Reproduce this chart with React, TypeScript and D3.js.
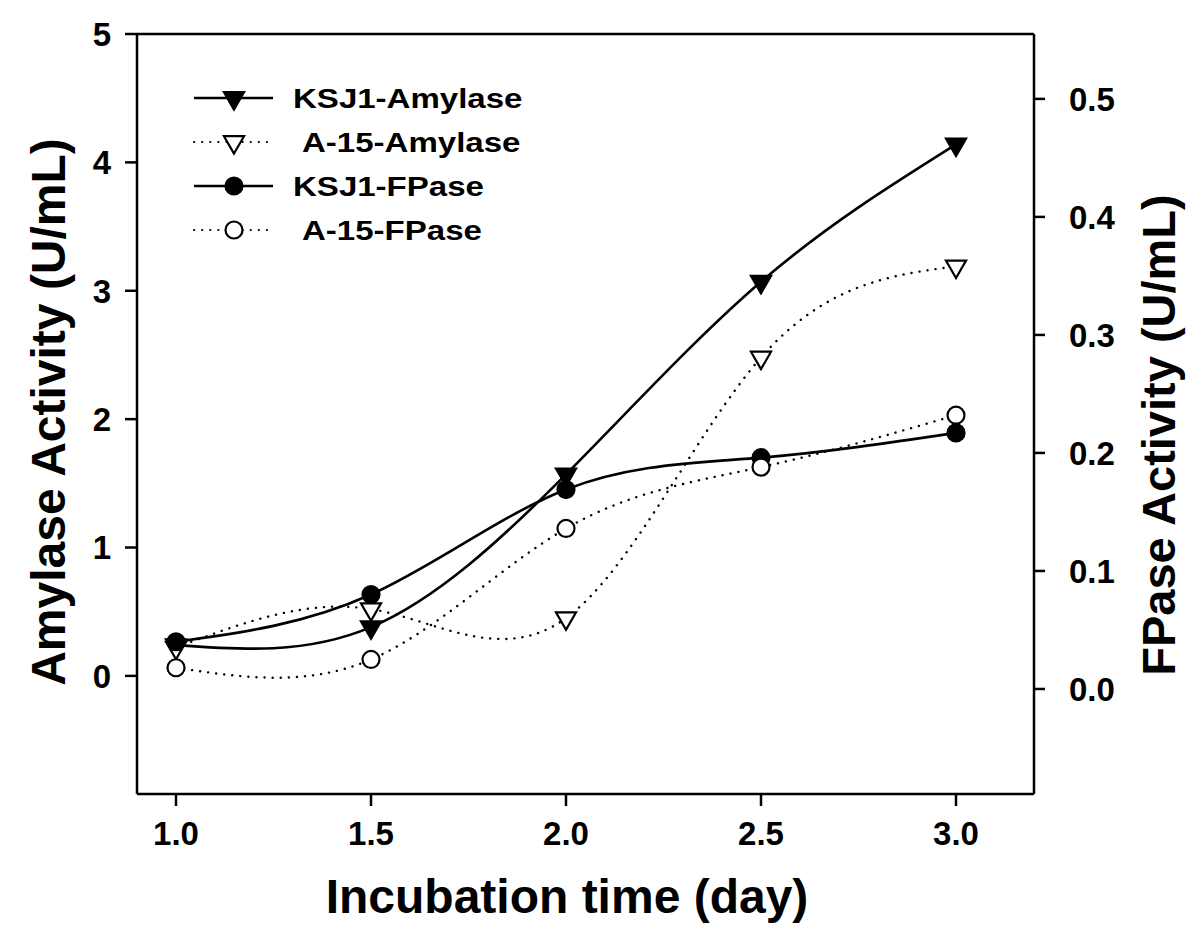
import React from "react";
import * as d3 from "d3";

const days = [1.0, 1.5, 2.0, 2.5, 3.0];
const ksj1Amylase = [0.24, 0.38, 1.57, 3.07, 4.14];
const a15Amylase = [0.22, 0.52, 0.45, 2.48, 3.19];
const ksj1FPase = [0.04, 0.08, 0.169, 0.196, 0.217];
const a15FPase = [0.018, 0.025, 0.136, 0.188, 0.232];

const xTicks = [1.0, 1.5, 2.0, 2.5, 3.0];
const leftTicks = [0, 1, 2, 3, 4, 5];
const rightTicks = [0.0, 0.1, 0.2, 0.3, 0.4, 0.5];

const legendNames = ["KSJ1-Amylase", "A-15-Amylase", "KSJ1-FPase", "A-15-FPase"];

const W = 1189;
const H = 946;
const L = 137, R = 1034, T = 34, B = 794;

const x = d3.scaleLinear().domain([0.9, 3.2]).range([L, R]);
const yL = d3.scaleLinear().domain([-0.92, 5]).range([B, T]);
const yR = d3.scaleLinear().domain([-0.089, 0.555]).range([B, T]);

const font = "'Liberation Sans', Arial, sans-serif";
const triPath = d3.symbol(d3.symbolTriangle, 175)()!;

type Series = {
  name: string;
  values: number[];
  axis: "L" | "R";
  marker: "tri" | "circle";
  filled: boolean;
  dotted: boolean;
};

const series: Series[] = [
  { name: legendNames[0], values: ksj1Amylase, axis: "L", marker: "tri", filled: true, dotted: false },
  { name: legendNames[1], values: a15Amylase, axis: "L", marker: "tri", filled: false, dotted: true },
  { name: legendNames[2], values: ksj1FPase, axis: "R", marker: "circle", filled: true, dotted: false },
  { name: legendNames[3], values: a15FPase, axis: "R", marker: "circle", filled: false, dotted: true },
];

function Marker({ kind, filled, cx, cy }: { kind: string; filled: boolean; cx: number; cy: number }) {
  if (kind === "tri") {
    return (
      <path
        d={triPath}
        transform={`translate(${cx},${cy}) rotate(180)`}
        fill={filled ? "#000" : "#fff"}
        stroke="#000"
        strokeWidth={2.2}
      />
    );
  }
  return <circle cx={cx} cy={cy} r={8.5} fill={filled ? "#000" : "#fff"} stroke="#000" strokeWidth={2.2} />;
}

export default function App() {
  const lineFor = (s: Series) => {
    const ys = s.axis === "L" ? yL : yR;
    return d3
      .line<number>()
      .x((_, i) => x(days[i]))
      .y((v) => ys(v))
      .curve(d3.curveNatural)(s.values) as string;
  };

  const legendY = [98, 142, 186, 230];

  return (
    <svg
      width={W}
      height={H}
      style={{ position: "absolute", left: 0, top: 0, background: "#fff" }}
      fontFamily={font}
    >
      <rect x={0} y={0} width={W} height={H} fill="#fff" />
      {/* frame */}
      <line x1={L} y1={T} x2={R} y2={T} stroke="#000" strokeWidth={2.5} />
      <line x1={L} y1={T} x2={L} y2={B} stroke="#000" strokeWidth={2.5} />
      <line x1={R} y1={T} x2={R} y2={B} stroke="#000" strokeWidth={2.5} />
      <line x1={L} y1={B} x2={R} y2={B} stroke="#000" strokeWidth={2.5} />

      {/* left ticks */}
      {leftTicks.map((t) => (
        <g key={"l" + t}>
          <line x1={L - 12} x2={L} y1={yL(t)} y2={yL(t)} stroke="#000" strokeWidth={2.5} />
          <text x={L - 26} y={yL(t)} dy="0.36em" textAnchor="end" fontSize={33} fontWeight="bold">
            {d3.format("d")(t)}
          </text>
        </g>
      ))}

      {/* right ticks */}
      {rightTicks.map((t) => (
        <g key={"r" + t}>
          <line x1={R} x2={R + 11} y1={yR(t)} y2={yR(t)} stroke="#000" strokeWidth={2.5} />
          <text x={R + 35} y={yR(t)} dy="0.36em" textAnchor="start" fontSize={33} fontWeight="bold">
            {d3.format(".1f")(t)}
          </text>
        </g>
      ))}

      {/* bottom ticks */}
      {xTicks.map((t) => (
        <g key={"x" + t}>
          <line x1={x(t)} x2={x(t)} y1={B} y2={B + 12} stroke="#000" strokeWidth={2.5} />
          <text x={x(t)} y={B + 51} textAnchor="middle" fontSize={33} fontWeight="bold">
            {d3.format(".1f")(t)}
          </text>
        </g>
      ))}

      {/* axis titles */}
      <text
        transform={`translate(65,412) rotate(-90)`}
        textAnchor="middle"
        fontSize={48}
        fontWeight="bold"
      >
        Amylase Activity (U/mL)
      </text>
      <text
        transform={`translate(1175,435) rotate(-90)`}
        textAnchor="middle"
        fontSize={47}
        fontWeight="bold"
      >
        FPase Activity (U/mL)
      </text>
      <text x={567} y={913} textAnchor="middle" fontSize={48} fontWeight="bold">
        Incubation time (day)
      </text>

      {/* series lines */}
      {series.map((s) => (
        <path
          key={"p" + s.name}
          d={lineFor(s)}
          fill="none"
          stroke="#000"
          strokeWidth={s.dotted ? 2.4 : 2.6}
          strokeDasharray={s.dotted ? "0.1,8" : undefined}
          strokeLinecap={s.dotted ? "round" : "butt"}
        />
      ))}

      {/* markers */}
      {series.map((s) =>
        s.values.map((v, i) => (
          <Marker
            key={s.name + i}
            kind={s.marker}
            filled={s.filled}
            cx={x(days[i])}
            cy={(s.axis === "L" ? yL : yR)(v)}
          />
        ))
      )}

      {/* legend */}
      {series.map((s, i) => (
        <g key={"lg" + s.name}>
          <line
            x1={194}
            x2={273}
            y1={legendY[i]}
            y2={legendY[i]}
            stroke="#000"
            strokeWidth={s.dotted ? 2.2 : 2.6}
            strokeDasharray={s.dotted ? "0.1,8" : undefined}
            strokeLinecap={s.dotted ? "round" : "butt"}
          />
          <Marker kind={s.marker} filled={s.filled} cx={234} cy={legendY[i]} />
          <text
            transform={`translate(${s.dotted ? 302 : 293},${legendY[i]}) scale(1.18,1)`}
            dy="0.36em"
            fontSize={28}
            fontWeight="bold"
          >
            {s.name}
          </text>
        </g>
      ))}
    </svg>
  );
}
